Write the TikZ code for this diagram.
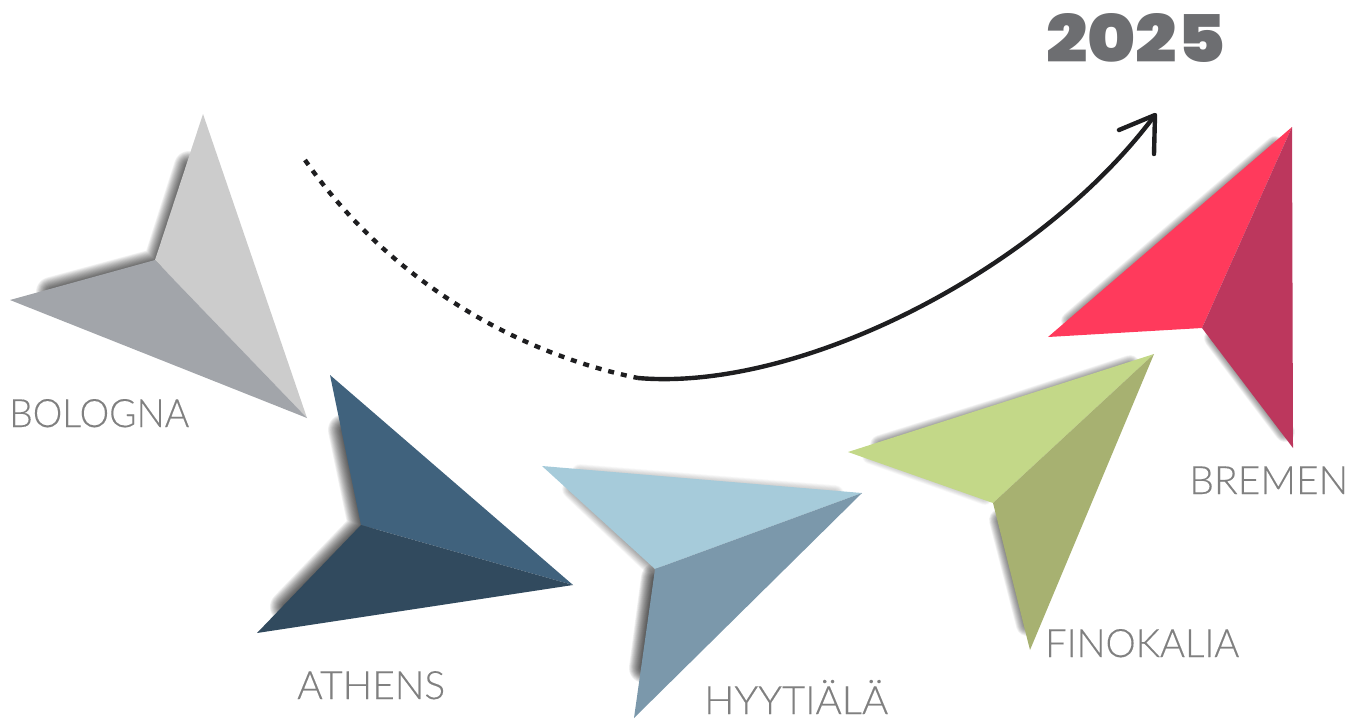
\documentclass[tikz,border=0pt]{standalone}
\usepackage{fontspec}
\usepackage{graphicx}
\setmainfont[FakeBold=0.25]{Lato Light}
\newfontfamily\yearfont{Poppins Black}
\definecolor{bolL}{HTML}{CCCCCC}\definecolor{bolD}{HTML}{A2A5AA}
\definecolor{athL}{HTML}{40627D}\definecolor{athD}{HTML}{314A5E}
\definecolor{hyyL}{HTML}{A6CBDA}\definecolor{hyyD}{HTML}{7B98AB}
\definecolor{finL}{HTML}{C3D888}\definecolor{finD}{HTML}{A7B171}
\definecolor{breL}{HTML}{FF3A5C}\definecolor{breD}{HTML}{BC375D}
\definecolor{labelgrey}{HTML}{808080}
\definecolor{yeargrey}{HTML}{6D6E71}
\definecolor{ink}{HTML}{1E1E20}
% opacity, max width, path hidden just inside the plane
\newcommand\softshadow[3]{%
  \foreach \k in {1,...,20}{
    \pgfmathsetmacro\wid{#2*\k/20}
    \draw[black,opacity=#1,line width=\wid pt,line join=round,line cap=round] #3;
  }}
\newcommand\plane[6]{%
  \fill[#1] (#3) -- (#4) -- (#6) -- cycle;
  \fill[#2] (#5) -- (#4) -- (#6) -- cycle;
}
\tikzset{
  lbl/.style={anchor=base west,inner sep=0pt,text=labelgrey,font=\fontsize{39}{39}\selectfont},
  yearlbl/.style={anchor=base west,inner sep=0pt,text=yeargrey,font=\yearfont\fontsize{60}{60}\selectfont},
  curveline/.style={ink,line width=4.4pt},
}
\begin{document}
\begin{tikzpicture}[x=1pt,y=-1pt]
\useasboundingbox (0,0) rectangle (1363,718);
\coordinate (bT) at (203,114);\coordinate (bI) at (155,260);\coordinate (bL) at (10,300);\coordinate (bF) at (307,418);
\coordinate (aT) at (330,375);\coordinate (aI) at (361,525);\coordinate (aL) at (257,633);\coordinate (aF) at (573,585);
\coordinate (hT) at (542,466);\coordinate (hI) at (655,569);\coordinate (hL) at (634,718);\coordinate (hF) at (862,493);
\coordinate (fT) at (848,452);\coordinate (fI) at (993,503);\coordinate (fL) at (1030,650);\coordinate (fF) at (1154,354);
\coordinate (rT) at (1048,337);\coordinate (rI) at (1202,328);\coordinate (rL) at (1293,448);\coordinate (rF) at (1292,127);
% shadows
\softshadow{0.05}{30}{(189,166) -- (158,263) -- (51,292)}
\softshadow{0.055}{32}{(344,430) -- (364,526) -- (286,607)}
\softshadow{0.015}{18}{(835,494) -- (700,483) -- (580,473)}
\softshadow{0.025}{20}{(572,489) -- (650,563)}
\softshadow{0.06}{30}{(656,578) -- (644,668)}
\softshadow{0.03}{20}{(1130,365) -- (1005,406) -- (880,445)}
\softshadow{0.015}{16}{(870,456) -- (985,497)}
\softshadow{0.04}{22}{(1000,520) -- (1027,625)}
\softshadow{0.03}{18}{(1275,145) -- (1172,233) -- (1070,321)}
\softshadow{0.035}{20}{(1214,338) -- (1285,432)}
% planes
\plane{bolL}{bolD}{bT}{bI}{bL}{bF}
\plane{athL}{athD}{aT}{aI}{aL}{aF}
\plane{hyyL}{hyyD}{hT}{hI}{hL}{hF}
\plane{finL}{finD}{fT}{fI}{fL}{fF}
\plane{breL}{breD}{rT}{rI}{rL}{rF}
% curve
\coordinate (cS) at (305,160);\coordinate (cM) at (638,378);\coordinate (cE) at (1155,115);
\coordinate (hA) at (1119,130);\coordinate (hB) at (1154,154);
\draw[curveline,dash pattern=on 6pt off 7pt] (cS) .. controls (385,275) and (510,352) .. (cM);
\draw[curveline] (cM) .. controls (800,392) and (1040,270) .. (cE);
\draw[curveline,line cap=round,line join=round] (hA) -- (cE) -- (hB);
% labels
\node[lbl] (bologna) at (9,427) {\resizebox{180pt}{\height}{BOLOGNA}};
\node[lbl] (athens) at (297,699) {\resizebox{148pt}{\height}{ATHENS}};
\node[lbl] (hyytiala) at (704,714) {\resizebox{184pt}{\height}{HYYTIÄLÄ}};
\node[lbl] (finokalia) at (1045,657) {\resizebox{194pt}{\height}{FINOKALIA}};
\node[lbl] (bremen) at (1189,494) {\resizebox{159pt}{\height}{BREMEN}};
\node[yearlbl] (year) at (1046,62) {\resizebox{179pt}{49pt}{2025}};
\end{tikzpicture}
\end{document}
